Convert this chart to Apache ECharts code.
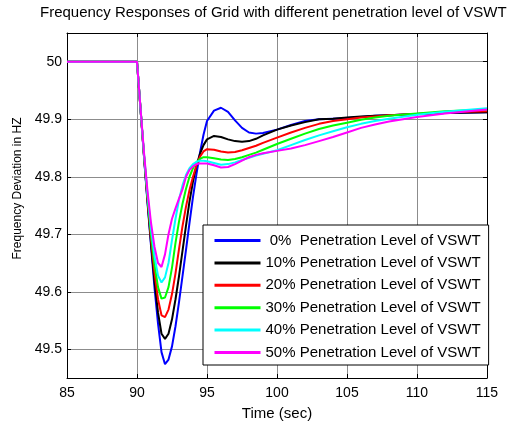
<!DOCTYPE html>
<html>
<head>
<meta charset="utf-8">
<script src="https://cdn.jsdelivr.net/npm/echarts@6/dist/echarts.min.js"></script>
<style>
  html, body { margin: 0; padding: 0; background: #fff; }
  #chart { width: 508px; height: 422px; }
</style>
</head>
<body>
<div id="chart"></div>
<script>
// time axis (sec)
var timeSec = [85, 90, 90.25, 90.5, 90.75, 91, 91.25, 91.5, 91.75, 92, 92.25, 92.5, 92.75, 93, 93.25, 93.5, 93.75, 94, 94.25, 94.5, 94.75, 95, 95.5, 96, 96.5, 97, 97.5, 98, 98.5, 99, 100, 101, 102, 103, 104, 105, 106, 107, 108, 110, 112, 115];

// frequency for each penetration level (Hz)
var pen0 = [50, 50, 49.918, 49.835, 49.755, 49.68, 49.607, 49.545, 49.495, 49.474, 49.482, 49.505, 49.54, 49.582, 49.627, 49.673, 49.72, 49.765, 49.805, 49.842, 49.873, 49.897, 49.915, 49.92, 49.913, 49.898, 49.885, 49.877, 49.875, 49.876, 49.882, 49.89, 49.897, 49.9, 49.901, 49.902, 49.904, 49.906, 49.907, 49.909, 49.911, 49.912];
var pen10 = [50, 50, 49.918, 49.836, 49.758, 49.685, 49.618, 49.564, 49.527, 49.518, 49.527, 49.552, 49.587, 49.627, 49.671, 49.715, 49.757, 49.792, 49.82, 49.84, 49.855, 49.865, 49.871, 49.869, 49.865, 49.862, 49.861, 49.862, 49.866, 49.872, 49.882, 49.889, 49.895, 49.9, 49.901, 49.903, 49.905, 49.906, 49.907, 49.909, 49.911, 49.912];
var pen20 = [50, 50, 49.918, 49.837, 49.762, 49.692, 49.633, 49.587, 49.559, 49.556, 49.569, 49.596, 49.632, 49.674, 49.714, 49.748, 49.777, 49.8, 49.82, 49.835, 49.844, 49.848, 49.847, 49.844, 49.842, 49.843, 49.846, 49.85, 49.854, 49.859, 49.868, 49.877, 49.885, 49.892, 49.897, 49.9, 49.903, 49.905, 49.907, 49.909, 49.912, 49.914];
var pen30 = [50, 50, 49.919, 49.838, 49.765, 49.7, 49.647, 49.608, 49.588, 49.59, 49.608, 49.642, 49.685, 49.722, 49.753, 49.779, 49.8, 49.815, 49.825, 49.831, 49.834, 49.834, 49.832, 49.83, 49.829, 49.831, 49.834, 49.838, 49.842, 49.847, 49.857, 49.866, 49.875, 49.883, 49.889, 49.894, 49.899, 49.903, 49.906, 49.91, 49.914, 49.917];
var pen40 = [50, 50, 49.919, 49.84, 49.77, 49.71, 49.662, 49.628, 49.616, 49.625, 49.65, 49.69, 49.727, 49.76, 49.785, 49.803, 49.815, 49.822, 49.826, 49.828, 49.828, 49.827, 49.824, 49.821, 49.822, 49.825, 49.829, 49.833, 49.837, 49.84, 49.846, 49.855, 49.864, 49.872, 49.879, 49.886, 49.892, 49.897, 49.901, 49.908, 49.913, 49.919];
var pen50 = [50, 50, 49.92, 49.842, 49.775, 49.72, 49.678, 49.65, 49.643, 49.665, 49.7, 49.727, 49.745, 49.762, 49.778, 49.8, 49.812, 49.818, 49.822, 49.823, 49.823, 49.823, 49.82, 49.816, 49.817, 49.822, 49.828, 49.834, 49.838, 49.841, 49.845, 49.849, 49.855, 49.862, 49.869, 49.877, 49.885, 49.891, 49.896, 49.904, 49.91, 49.917];

var seriesNames = [' 0%  Penetration Level of VSWT', '10% Penetration Level of VSWT', '20% Penetration Level of VSWT', '30% Penetration Level of VSWT', '40% Penetration Level of VSWT', '50% Penetration Level of VSWT'];
var seriesColors = ['#0000ff', '#000000', '#ff0000', '#00ff00', '#00ffff', '#ff00ff'];
var seriesValues = [pen0, pen10, pen20, pen30, pen40, pen50];

var xTicks = { min: 85, max: 115, interval: 5 };

var FONT = 'Liberation Sans, Arial, sans-serif';

var chart = echarts.init(document.getElementById('chart'));

var toPairs = function (vals) {
    var res = [];
    for (var i = 0; i < timeSec.length; i++) {
        res.push([timeSec[i], vals[i]]);
    }
    return res;
};

var series = [];
for (var i = 0; i < seriesValues.length; i++) {
    series.push({
        name: seriesNames[i],
        type: 'line',
        data: toPairs(seriesValues[i]),
        symbol: 'none',
        animation: false,
        lineStyle: { color: seriesColors[i], width: 2 },
        itemStyle: { color: seriesColors[i] }
    });
}

var option = {
    backgroundColor: '#fff',
    animation: false,
    title: {
        text: 'Frequency Responses of Grid with different penetration level of VSWT',
        left: 40,
        top: 5,
        padding: 0,
        textStyle: { fontFamily: FONT, fontSize: 15, fontWeight: 'normal', color: '#000' }
    },
    grid: { left: 67, right: 21, top: 33, bottom: 44, outerBoundsMode: 'none' },
    legend: {
        orient: 'vertical',
        left: 203,
        top: 225,
        padding: [8, 8, 5, 10],
        itemWidth: 46,
        itemHeight: 15,
        itemGap: 7.4,
        backgroundColor: '#fff',
        borderColor: '#000',
        borderWidth: 1,
        // only the line sample, no marker
        itemStyle: { opacity: 0 },
        lineStyle: { width: 3 },
        textStyle: { fontFamily: FONT, fontSize: 15, color: '#000' },
        data: seriesNames
    },
    xAxis: [{
        type: 'value',
        min: xTicks.min,
        max: xTicks.max,
        interval: xTicks.interval,
        name: 'Time (sec)',
        nameLocation: 'middle',
        nameGap: 28,
        nameTextStyle: { fontFamily: FONT, fontSize: 15, color: '#000' },
        axisLine: { lineStyle: { color: '#000', width: 1 } },
        axisTick: { inside: true, length: 4, lineStyle: { color: '#000' } },
        axisLabel: { fontFamily: FONT, fontSize: 14, color: '#000', margin: 8 },
        splitLine: { show: true, lineStyle: { color: '#8c8c8c', width: 1 } }
    }, {
        type: 'value',
        position: 'top',
        min: xTicks.min,
        max: xTicks.max,
        interval: xTicks.interval,
        axisLine: { lineStyle: { color: '#000', width: 1 } },
        axisTick: { inside: true, length: 4, lineStyle: { color: '#000' } },
        axisLabel: { show: false },
        splitLine: { show: false }
    }],
    yAxis: [{
        type: 'value',
        min: 49.45,
        max: 50.05,
        splitNumber: 6,
        name: 'Frequency Deviation in HZ',
        nameLocation: 'middle',
        nameGap: 43,
        nameTextStyle: { fontFamily: FONT, fontSize: 12, color: '#000', padding: [0, 0, 0, 34] },
        axisLine: { lineStyle: { color: '#000', width: 1 } },
        axisTick: { inside: true, length: 4, lineStyle: { color: '#000' } },
        axisLabel: { fontFamily: FONT, fontSize: 14, color: '#000', margin: 5, showMinLabel: false, showMaxLabel: false },
        splitLine: { show: true, lineStyle: { color: '#8c8c8c', width: 1 } }
    }, {
        type: 'value',
        position: 'right',
        min: 49.45,
        max: 50.05,
        splitNumber: 6,
        axisLine: { show: true, lineStyle: { color: '#000', width: 1 } },
        axisTick: { show: true, inside: true, length: 4, lineStyle: { color: '#000' } },
        axisLabel: { show: false },
        splitLine: { show: false }
    }],
    series: series
};

chart.setOption(option, true);
</script>
</body>
</html>
